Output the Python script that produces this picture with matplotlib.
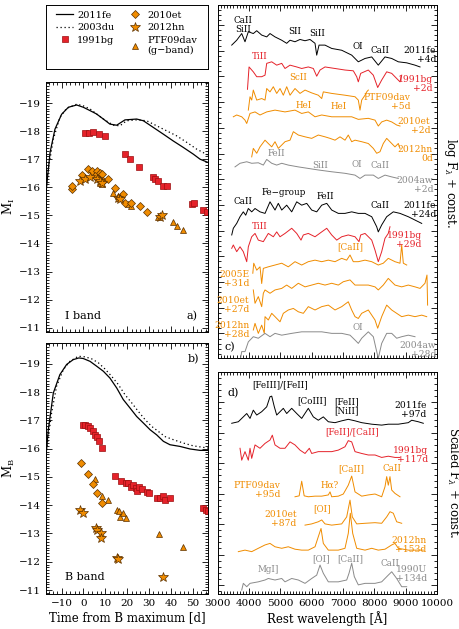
#! /usr/bin/env python3

#Light curves (left) and spectral sequences (right) of faint SNe
import matplotlib
matplotlib.use('Agg')
import matplotlib.pyplot as plt
from matplotlib.ticker import MultipleLocator, FixedLocator
from matplotlib.lines import Line2D

plt.rcParams['font.family'] = 'DejaVu Serif'
plt.rcParams['mathtext.fontset'] = 'dejavuserif'
plt.rcParams['font.size'] = 7.5

RED = '#e5222a'
ORANGE = '#f08c00'
GREY = '#8a8a8a'

#---------------- light curves, I band ----------------
fe11_I_t = [-17.3, -15.3, -13.05, -10, -6.9, -3.1, -0.1, 3.0, 6.0, 9.1, 12.1, 15.2, 19.0, 24.35, 27.4, 32, 36.6, 41.1, 45.7, 50.3, 53.4, 57.2]
fe11_I_m = [-15.69, -17.24, -18.07, -18.6, -18.85, -18.93, -18.85, -18.73, -18.61, -18.43, -18.25, -18.21, -18.40, -18.43, -18.37, -18.13, -17.89, -17.65, -17.42, -17.18, -17.0, -16.88]
du03_I_t = [-16.9, -13.8, -10.8, -7.7, -3.1, -0.1, 3.0, 6.0, 9.1, 13.7, 16.7, 19.8, 24.4, 28.9, 33.5, 38.1, 42.7, 47.3, 51.8, 57.2]
du03_I_m = [-16.29, -17.71, -18.49, -18.81, -18.96, -18.90, -18.79, -18.61, -18.43, -18.21, -18.19, -18.37, -18.40, -18.37, -18.19, -18.01, -17.83, -17.60, -17.36, -17.14]
bg91_I_t = [0.7, 2.7, 4.5, 7.25, 9.85, 19.0, 21.3, 25.6, 31.7, 32.7, 34.0, 36.6, 38.1, 49.5, 50.6, 54.9, 56.7]
bg91_I_m = [-17.95, -17.95, -17.98, -17.89, -17.81, -17.18, -17.0, -16.74, -16.35, -16.29, -16.23, -16.05, -16.05, -15.39, -15.43, -15.19, -15.12]
et10_I_t = [-5.4, -5.4, -0.84, 1.9, 3.7, 6.0, 7.6, 5.3, 6.8, 8.3, 9.1, 11.4, 14.4, 18.2, 19.0, 21.8, 25.9, 28.9]
et10_I_m = [-15.93, -16.05, -16.44, -16.64, -16.58, -16.58, -16.52, -16.40, -16.29, -16.46, -16.23, -16.29, -15.99, -15.75, -15.43, -15.43, -15.33, -15.12]
hn12_I_t = [-1.6, 0.7, 3.0, 6.0, 7.6, 8.3, 16.0, 16.7, 35.0, 35.8]
hn12_I_m = [-16.23, -16.29, -16.35, -16.29, -16.23, -16.17, -15.63, -15.60, -14.95, -15.0]
dav_I_t = [7.6, 8.3, 13.7, 16.0, 16.7, 20.5, 21.8, 34.3, 41.1, 42.7, 45.7]
dav_I_m = [-16.17, -16.11, -15.79, -15.69, -15.61, -15.39, -15.33, -14.95, -14.76, -14.62, -14.48]

#---------------- light curves, B band ----------------
fe11_B_t = [-17.3, -16.1, -13.8, -10.8, -7.7, -4.7, -2.1, -0.1, 3.0, 6.0, 9.1, 12.1, 15.2, 18.2, 21.3, 24.35, 27.4, 30.5, 33.5, 36.6, 39.6, 44.2, 48.8, 53.4, 57.2]
fe11_B_m = [-15.61, -16.67, -17.97, -18.62, -18.98, -19.15, -19.21, -19.19, -19.09, -18.92, -18.74, -18.50, -18.15, -17.74, -17.44, -17.14, -16.91, -16.67, -16.49, -16.26, -16.14, -16.08, -15.99, -15.94, -15.94]
du03_B_t = [-16.9, -14.6, -12.3, -9.2, -6.2, -2.4, 0.7, 3.7, 6.8, 9.85, 12.9, 15.95, 19.0, 22.1, 25.1, 28.2, 31.2, 34.3, 37.3, 41.1, 45.7, 50.3, 57.2]
du03_B_m = [-15.96, -17.26, -18.21, -18.80, -19.09, -19.27, -19.25, -19.18, -19.04, -18.82, -18.56, -18.27, -17.91, -17.62, -17.32, -17.03, -16.79, -16.61, -16.43, -16.32, -16.20, -16.10, -16.02]
bg91_B_t = [-0.4, 0.7, 1.9, 3.0, 4.2, 5.3, 6.0, 7.25, 8.3, 14.4, 17.2, 19.5, 20.5, 21.6, 22.8, 24.0, 24.35, 25.6, 26.6, 28.9, 30.2, 33.5, 35.0, 36.6, 37.3, 39.6, 54.9, 56.1, 57.2]
bg91_B_m = [-16.85, -16.83, -16.79, -16.73, -16.61, -16.49, -16.41, -16.26, -16.02, -15.02, -14.84, -14.80, -14.78, -14.66, -14.72, -14.60, -14.52, -14.66, -14.57, -14.46, -14.43, -14.25, -14.25, -14.31, -14.19, -14.25, -13.89, -13.83, -13.78]
et10_B_t = [-1.1, 1.9, 4.2, 6.0, 8.3]
et10_B_m = [-15.49, -15.11, -14.76, -14.45, -14.09]
hn12_B_t = [-1.6, -0.4, 5.7, 6.3, 7.9, 8.0, 15.2, 16.0, 36.3]
hn12_B_m = [-13.83, -13.72, -13.18, -13.12, -13.01, -12.83, -12.12, -12.09, -11.45]
dav_B_t = [5.3, 8.3, 11.4, 15.5, 16.4, 16.7, 18.2, 19.5, 34.7, 45.7]
dav_B_m = [-14.92, -14.34, -14.17, -13.83, -13.78, -13.60, -13.74, -13.56, -12.98, -12.51]

#---------------- early spectra, log F + const. ----------------
fe11_4d_w = [3447, 3606, 3766, 3871, 3977, 4136, 4245, 4404, 4564, 4669, 4829, 5043, 5202, 5308, 5467, 5627, 5787, 5946, 6106, 6160, 6234, 6425, 6639, 6958, 7277, 7488, 7702, 7916, 8126, 8340, 8554, 8765, 9033, 9298, 9458]
fe11_4d_f = [12.18, 12.37, 12.63, 12.31, 12.70, 12.63, 12.74, 12.57, 12.50, 12.63, 12.50, 12.37, 12.25, 12.37, 12.31, 12.40, 12.35, 12.40, 12.25, 11.79, 12.18, 12.18, 12.05, 11.98, 11.79, 11.53, 11.66, 11.72, 11.40, 11.72, 11.66, 11.53, 11.49, 11.40, 11.33]
bg91_2d_w = [3950, 4000, 4136, 4245, 4404, 4510, 4564, 4724, 4883, 5043, 5148, 5308, 5522, 5681, 5892, 6052, 6160, 6266, 6425, 6744, 7063, 7328, 7437, 7488, 7564, 7807, 7967, 8107, 8234, 8394, 8554, 8713, 8819, 8873]
bg91_2d_f = [10.46, 11.33, 11.14, 10.95, 10.95, 11.01, 11.47, 11.53, 11.40, 11.47, 11.27, 11.40, 11.33, 11.27, 11.33, 11.27, 10.97, 11.21, 11.33, 11.27, 11.21, 11.18, 10.95, 10.75, 11.08, 11.21, 11.01, 10.53, 10.82, 11.14, 11.08, 10.88, 10.75, 11.01]
dav_5d_w = [3977, 4031, 4085, 4136, 4245, 4404, 4510, 4564, 4669, 4775, 4883, 4989, 5094, 5202, 5308, 5467, 5627, 5787, 6000, 6211, 6320, 6371, 6639, 7063, 7383, 7488, 7542, 7596, 7702, 7756, 7807]
dav_5d_f = [9.65, 10.17, 10.04, 10.43, 10.04, 10.10, 10.04, 10.49, 10.36, 10.56, 10.30, 10.49, 10.23, 10.56, 10.23, 10.49, 10.30, 10.43, 10.32, 10.23, 10.10, 10.36, 10.30, 10.23, 10.17, 10.04, 9.65, 10.04, 10.23, 10.36, 10.43]
et10_2d_w = [3498, 3606, 3766, 3871, 3926, 4031, 4191, 4350, 4564, 4829, 5148, 5467, 5681, 5892, 6106, 6320, 6639, 6958, 7277, 7488, 7807, 8021, 8126, 8234, 8394, 8554, 8713, 8819]
et10_2d_f = [9.39, 9.46, 9.39, 9.26, 9.13, 9.52, 9.58, 9.46, 9.58, 9.65, 9.58, 9.65, 9.52, 9.58, 9.39, 9.46, 9.39, 9.39, 9.39, 9.29, 9.33, 9.26, 9.03, 9.19, 9.26, 9.19, 9.07, 9.03]
hn12_0d_w = [4085, 4136, 4245, 4350, 4510, 4615, 4724, 4829, 4934, 5043, 5148, 5308, 5414, 5573, 5787, 6000, 6211, 6425, 6585, 6744, 6904, 7063, 7168, 7277, 7383, 7596, 7807, 7967, 8075, 8180, 8285, 8394, 8554, 8659, 8765, 8819]
hn12_0d_f = [7.83, 8.16, 7.97, 8.22, 8.48, 8.35, 8.22, 8.42, 8.16, 8.29, 8.42, 8.48, 8.81, 8.68, 8.61, 8.55, 8.68, 8.61, 8.55, 8.48, 8.61, 8.48, 8.68, 8.42, 8.48, 8.42, 8.35, 8.16, 7.97, 8.03, 8.35, 8.55, 8.35, 8.22, 8.35, 8.16]
aw04_2d_w = [3552, 3712, 3926, 4085, 4296, 4456, 4564, 4724, 4883, 5043, 5253, 5573, 5892, 6211, 6639, 7063, 7383, 7542, 7702, 7967, 8126, 8340, 8554, 8765]
aw04_2d_f = [7.44, 7.58, 7.64, 7.58, 7.60, 7.51, 7.73, 7.58, 7.51, 7.58, 7.51, 7.44, 7.38, 7.32, 7.25, 7.19, 7.12, 6.99, 7.12, 7.12, 6.99, 7.12, 7.05, 6.99]
fe11_24d_w = [3447, 3498, 3606, 3712, 3817, 3894, 3977, 4085, 4191, 4350, 4510, 4669, 4829, 4934, 5043, 5202, 5362, 5522, 5681, 5841, 6000, 6160, 6320, 6480, 6639, 6850, 7063, 7277, 7488, 7702, 7916, 8075, 8126, 8234, 8394, 8605, 8819, 9084, 9298, 9512]
fe11_24d_f = [4.79, 5.05, 5.24, 5.50, 5.69, 5.56, 5.82, 5.69, 5.82, 5.69, 5.63, 6.08, 5.76, 6.02, 5.76, 5.95, 5.69, 6.08, 5.95, 6.02, 5.76, 5.69, 5.95, 6.02, 5.76, 5.63, 5.63, 5.69, 5.63, 5.63, 5.50, 5.11, 4.91, 5.18, 5.50, 5.69, 5.63, 5.50, 5.37, 5.24]
bg91_29d_w = [3447, 3498, 3606, 3712, 3817, 3926, 3977, 4085, 4191, 4296, 4456, 4615, 4775, 4883, 4989, 5148, 5362, 5522, 5659, 5733, 5892, 6106, 6320, 6480, 6639, 6799, 6958, 7168, 7383, 7510, 7564, 7702, 7916, 8021, 8126, 8234, 8340, 8445, 8499]
bg91_29d_f = [4.27, 4.40, 4.14, 4.33, 4.14, 3.75, 4.33, 4.72, 4.85, 4.59, 4.53, 4.85, 4.72, 4.91, 4.72, 4.85, 5.05, 4.85, 4.59, 4.79, 4.85, 4.72, 4.91, 5.05, 4.79, 4.59, 4.72, 4.79, 4.72, 4.53, 4.79, 4.85, 4.59, 4.20, 3.75, 4.14, 4.66, 4.85, 5.11]
e05_31d_w = [4120, 4150, 4245, 4350, 4404, 4456, 4615, 4829, 5043, 5253, 5467, 5681, 5892, 6106, 6320, 6531, 6744, 6958, 7117, 7223, 7328, 7488, 7702, 7916, 8126, 8285, 8445, 8659, 8819, 8873, 8925, 9033]
e05_31d_f = [3.30, 3.69, 3.42, 3.55, 2.90, 3.49, 3.55, 3.62, 3.69, 3.55, 3.75, 3.62, 3.75, 3.81, 3.75, 3.81, 3.75, 3.88, 3.81, 4.01, 3.75, 3.75, 3.81, 3.75, 3.62, 3.69, 3.88, 3.75, 3.69, 4.40, 3.69, 3.62]
et10_27d_w = [4136, 4191, 4296, 4404, 4456, 4510, 4669, 4829, 5043, 5202, 5362, 5573, 5787, 6000, 6211, 6425, 6639, 6850, 7009, 7223, 7383, 7596, 7807, 8021, 8126, 8285, 8445, 8659, 8873, 9084, 9298, 9458, 9617, 9680, 9700]
et10_27d_f = [2.65, 2.13, 2.39, 2.00, 2.52, 2.65, 2.52, 2.65, 2.71, 2.84, 2.71, 2.91, 2.77, 2.84, 2.91, 2.84, 2.91, 2.84, 2.97, 3.04, 2.84, 2.84, 2.84, 2.77, 2.65, 2.84, 3.10, 2.84, 2.77, 2.84, 2.77, 2.71, 2.91, 3.23, 2.06]
hn12_28d_w = [4136, 4191, 4296, 4404, 4487, 4510, 4615, 4724, 4829, 4989, 5094, 5253, 5414, 5573, 5733, 5892, 6106, 6320, 6531, 6744, 6958, 7168, 7277, 7383, 7488, 7596, 7807, 8021, 8107, 8234, 8394, 8554, 8713, 8873, 9084, 9298, 9512, 9671]
hn12_28d_f = [1.09, 1.35, 0.96, 1.28, 0.96, 1.61, 1.48, 1.74, 1.61, 1.41, 1.74, 1.87, 1.93, 1.80, 1.74, 2.00, 1.87, 2.00, 2.06, 1.87, 2.00, 2.19, 1.87, 1.61, 1.54, 1.74, 1.87, 1.48, 1.16, 1.61, 2.06, 1.87, 1.74, 1.61, 1.67, 1.61, 1.67, 1.61]
aw04_28d_w = [3712, 3766, 3871, 3977, 4136, 4296, 4510, 4669, 4829, 5043, 5362, 5681, 6000, 6320, 6639, 6958, 7223, 7383, 7488, 7596, 7807, 7967, 8075, 8126, 8234, 8394, 8554, 8713, 8873, 9084, 9298]
aw04_28d_f = [-0.14, 0.25, 0.25, 0.63, 0.83, 0.77, 0.96, 0.83, 0.96, 0.89, 0.96, 1.02, 1.02, 1.02, 0.96, 0.96, 0.89, 0.70, 0.57, 0.77, 1.02, 0.83, 0.25, -0.01, 0.57, 0.96, 0.96, 0.77, 0.83, 0.89, 0.83]

#---------------- nebular spectra, scaled F + const. ----------------
fe11_97d_w = [3447, 3658, 3817, 3926, 4031, 4136, 4245, 4404, 4564, 4669, 4724, 4807, 4883, 4989, 5094, 5202, 5362, 5522, 5681, 5892, 6052, 6211, 6371, 6531, 6744, 6958, 7168, 7383, 7596, 7916, 8234, 8445, 8765, 9084, 9193, 9403, 9563]
fe11_97d_f = [5.60, 5.65, 5.81, 5.92, 5.76, 6.03, 5.87, 5.98, 6.14, 6.47, 6.49, 6.14, 5.87, 5.98, 6.09, 5.92, 6.09, 5.92, 5.76, 6.09, 5.81, 5.70, 5.81, 5.65, 5.62, 5.68, 5.73, 5.68, 5.62, 5.57, 5.54, 5.57, 5.57, 5.62, 5.70, 5.65, 5.60]
bg91_117d_w = [3712, 3766, 3871, 3977, 4031, 4085, 4191, 4350, 4510, 4669, 4743, 4829, 4989, 5148, 5308, 5467, 5627, 5787, 5924, 6000, 6211, 6425, 6639, 6850, 7063, 7168, 7277, 7383, 7596, 7807, 8021, 8234, 8445, 8659, 8819]
bg91_117d_f = [4.78, 4.39, 4.67, 4.39, 4.78, 4.45, 4.89, 4.78, 4.94, 5.05, 5.21, 4.89, 4.78, 4.78, 4.99, 4.89, 4.72, 4.61, 4.78, 4.61, 4.67, 4.67, 4.67, 4.72, 4.83, 5.03, 4.99, 4.67, 4.61, 4.56, 4.56, 4.48, 4.52, 4.48, 4.48]
dav_95d_w = [5467, 5600, 5681, 5760, 5892, 6106, 6320, 6531, 6585, 6639, 6850, 7009, 7168, 7277, 7383, 7596, 7807, 8021, 8234, 8340, 8394, 8445, 8499, 8554, 8659, 8819]
dav_95d_f = [3.19, 3.22, 3.70, 3.22, 3.19, 3.21, 3.21, 3.25, 3.35, 3.19, 3.21, 3.28, 3.57, 3.87, 3.35, 3.21, 3.25, 3.28, 3.19, 3.52, 3.85, 3.57, 3.85, 3.41, 3.30, 3.19]
et10_87d_w = [5787, 6000, 6211, 6320, 6425, 6639, 6958, 7117, 7223, 7296, 7437, 7702, 8021, 8234, 8394, 8499, 8605, 8713, 8873]
et10_87d_f = [2.26, 2.30, 2.37, 2.43, 2.30, 2.26, 2.30, 2.53, 3.08, 2.53, 2.30, 2.32, 2.34, 2.32, 2.53, 2.70, 2.65, 2.37, 2.32]
hn12_153d_w = [3658, 3871, 4085, 4296, 4510, 4669, 4829, 5043, 5253, 5467, 5681, 5892, 6106, 6211, 6298, 6371, 6531, 6850, 7063, 7168, 7232, 7309, 7437, 7702, 7916, 8126, 8340, 8554, 8659, 8765, 9084, 9403, 9563]
hn12_153d_f = [1.39, 1.44, 1.39, 1.50, 1.61, 1.66, 1.55, 1.50, 1.55, 1.47, 1.44, 1.44, 1.55, 1.88, 2.15, 1.66, 1.44, 1.44, 1.50, 1.99, 2.65, 1.99, 1.50, 1.44, 1.50, 1.44, 1.47, 1.61, 1.66, 1.50, 1.44, 1.44, 1.44]
u90_134d_w = [3766, 3817, 3926, 4031, 4296, 4510, 4615, 4829, 5043, 5148, 5362, 5573, 5787, 6000, 6160, 6266, 6371, 6531, 6850, 7117, 7191, 7277, 7360, 7488, 7702, 8021, 8234, 8445, 8554, 8713, 8873, 9033]
u90_134d_f = [0.13, 0.35, 0.24, 0.35, 0.40, 0.46, 0.51, 0.46, 0.51, 0.40, 0.51, 0.46, 0.35, 0.51, 0.62, 0.95, 0.68, 0.40, 0.40, 0.46, 0.68, 1.01, 0.57, 0.30, 0.35, 0.35, 0.40, 0.62, 0.73, 0.51, 0.24, 0.24]

#Sets inward ticks on every side, IDL style
def style_axes(ax):
    ax.tick_params(which='both', direction='in', top=True, right=True, width=0.6)
    ax.tick_params(which='major', length=4.5)
    ax.tick_params(which='minor', length=2.2)
    for s in ax.spines.values():
        s.set_linewidth(0.7)

fig = plt.figure(figsize=(4.6, 6.29), dpi=100)
ax_leg = fig.add_axes([0.0993, 0.8903, 0.3522, 0.1017])
ax_a = fig.add_axes([0.0993, 0.4722, 0.3528, 0.3975])
ax_b = fig.add_axes([0.0993, 0.0552, 0.3528, 0.4000])
ax_c = fig.add_axes([0.4733, 0.4308, 0.4767, 0.5612])
ax_d = fig.add_axes([0.4733, 0.0556, 0.4767, 0.3529])

sq = dict(marker='s', ms=4.3, mfc=RED, mec='#9a1010', mew=0.5, ls='none')
dia = dict(marker='D', ms=4.0, mfc=ORANGE, mec='#5a3000', mew=0.5, ls='none')
star = dict(marker='*', ms=7.5, mfc=ORANGE, mec='#5a3000', mew=0.5, ls='none')
tri = dict(marker='^', ms=4.8, mfc=ORANGE, mec='#5a3000', mew=0.5, ls='none')
dot = (0, (1, 2.2))

#Panel a: I band
ax_a.plot(fe11_I_t, fe11_I_m, color='k', lw=0.9)
ax_a.plot(du03_I_t, du03_I_m, color='k', lw=0.9, ls=dot)
ax_a.plot(bg91_I_t, bg91_I_m, **sq)
ax_a.plot(dav_I_t, dav_I_m, **tri)
ax_a.plot(et10_I_t, et10_I_m, **dia)
ax_a.plot(hn12_I_t, hn12_I_m, **star)
ax_a.text(-0.1, -11.43, 'I band', ha='center', va='center', fontsize=8)
ax_a.text(49.6, -11.43, 'a)', ha='center', va='center', fontsize=8)
ax_a.set_ylabel(r'M$_\mathrm{I}$', fontsize=8.5, labelpad=1)
ax_a.tick_params(labelbottom=False)

#Panel b: B band
ax_b.plot(fe11_B_t, fe11_B_m, color='k', lw=0.9)
ax_b.plot(du03_B_t, du03_B_m, color='k', lw=0.9, ls=dot)
ax_b.plot(bg91_B_t, bg91_B_m, **sq)
ax_b.plot(dav_B_t, dav_B_m, **tri)
ax_b.plot(et10_B_t, et10_B_m, **dia)
ax_b.plot(hn12_B_t, hn12_B_m, **star)
ax_b.text(0.7, -11.47, 'B band', ha='center', va='center', fontsize=8)
ax_b.text(50.3, -19.18, 'b)', ha='center', va='center', fontsize=8)
ax_b.set_ylabel(r'M$_\mathrm{B}$', fontsize=8.5, labelpad=1)
ax_b.set_xlabel('Time from B maximum [d]', fontsize=8.5, labelpad=2)

for ax in (ax_a, ax_b):
    ax.set_xlim(-17.3, 57)
    ax.set_ylim(-10.85, -19.75)
    ax.xaxis.set_major_locator(MultipleLocator(10))
    ax.xaxis.set_minor_locator(MultipleLocator(2))
    ax.yaxis.set_major_locator(MultipleLocator(1))
    ax.yaxis.set_minor_locator(MultipleLocator(0.1))
    style_axes(ax)

#Legend box
handles = [Line2D([], [], color='k', lw=0.9),
           Line2D([], [], color='k', lw=0.9, ls=dot),
           Line2D([], [], **sq),
           Line2D([], [], **dia),
           Line2D([], [], **star),
           Line2D([], [], **tri)]
labels = ['2011fe', '2003du', '1991bg', '2010et', '2012hn', 'PTF09dav\n(g\u2212band)']
ax_leg.set_xticks([])
ax_leg.set_yticks([])
for s in ax_leg.spines.values():
    s.set_linewidth(0.7)
ax_leg.legend(handles, labels, ncol=2, frameon=False, loc='upper center',
              fontsize=7, handlelength=1.8, handletextpad=0.4, columnspacing=1.2,
              labelspacing=0.35, borderaxespad=0.2)

#Panel c: early spectra
early = [(fe11_4d_w, fe11_4d_f, 'k'), (bg91_2d_w, bg91_2d_f, RED),
         (dav_5d_w, dav_5d_f, ORANGE), (et10_2d_w, et10_2d_f, ORANGE),
         (hn12_0d_w, hn12_0d_f, ORANGE), (aw04_2d_w, aw04_2d_f, GREY),
         (fe11_24d_w, fe11_24d_f, 'k'), (bg91_29d_w, bg91_29d_f, RED),
         (e05_31d_w, e05_31d_f, ORANGE), (et10_27d_w, et10_27d_f, ORANGE),
         (hn12_28d_w, hn12_28d_f, ORANGE), (aw04_28d_w, aw04_28d_f, GREY)]
for w, f, c in early:
    ax_c.plot(w, f, color=c, lw=0.7)

c_ids = [(3817, 12.96, 'CaII\nSiII', 'k'), (5467, 12.70, 'SII', 'k'),
         (6160, 12.63, 'SiII', 'k'), (7469, 12.11, 'OI', 'k'),
         (8180, 11.98, 'CaII', 'k'), (4350, 11.72, 'TiII', RED),
         (5573, 10.92, 'ScII', ORANGE), (5733, 9.84, 'HeI', ORANGE),
         (6850, 9.78, 'HeI', ORANGE), (4883, 7.97, 'FeII', GREY),
         (6266, 7.51, 'SiII', GREY), (7437, 7.55, 'OI', GREY),
         (8180, 7.51, 'CaII', GREY), (3817, 6.08, 'CaII', 'k'),
         (5094, 6.43, 'Fe\u2212group', 'k'), (6425, 6.30, 'FeII', 'k'),
         (8180, 5.95, 'CaII', 'k'), (4350, 5.11, 'TiII', RED),
         (7223, 4.33, '[CaII]', ORANGE), (7488, 1.20, 'OI', GREY)]
for x, y, s, c in c_ids:
    ax_c.text(x, y, s, color=c, ha='center', va='center', fontsize=6.3, linespacing=1.0)

c_names = [(9968, 11.81, '2011fe\n+4d', 'k'), (9863, 10.68, '1991bg\n+2d', RED),
           (9139, 9.97, 'PTF09dav\n+5d', ORANGE), (9777, 9.03, '2010et\n+2d', ORANGE),
           (9873, 7.95, '2012hn\n0d', ORANGE), (9873, 6.72, '2004aw\n+2d', GREY),
           (9968, 5.75, '2011fe\n+24d', 'k'), (9514, 4.58, '1991bg\n+29d', RED),
           (4010, 3.08, '2005E\n+31d', ORANGE), (4010, 2.05, '2010et\n+27d', ORANGE),
           (4010, 1.09, '2012hn\n+28d', ORANGE), (9968, 0.30, '2004aw\n+28d', GREY)]
for x, y, s, c in c_names:
    ax_c.text(x, y, s, color=c, ha='right', va='center', fontsize=6.6, linespacing=1.0,
              multialignment='right')
ax_c.text(3393, 0.42, 'c)', ha='center', va='center', fontsize=8)
ax_c.set_ylim(0, 13.74)
ax_c.yaxis.set_major_locator(FixedLocator([0.96 + k for k in range(13)]))
ax_c.yaxis.set_minor_locator(FixedLocator([0.16 + 0.2 * k for k in range(68)]))

#Panel d: nebular spectra
late = [(fe11_97d_w, fe11_97d_f, 'k'), (bg91_117d_w, bg91_117d_f, RED),
        (dav_95d_w, dav_95d_f, ORANGE), (et10_87d_w, et10_87d_f, ORANGE),
        (hn12_153d_w, hn12_153d_f, ORANGE), (u90_134d_w, u90_134d_f, GREY)]
for w, f, c in late:
    ax_d.plot(w, f, color=c, lw=0.7)

d_ids = [(4989, 6.85, '[FeIII]/[FeII]', 'k'), (6000, 6.34, '[CoIII]', 'k'),
         (7117, 6.17, '[FeII]\n[NiII]', 'k'), (7277, 5.32, '[FeII]/[CaII]', RED),
         (7277, 4.12, '[CaII]', ORANGE), (8554, 4.12, 'CaII', ORANGE),
         (6585, 3.57, 'H\u03b1?', ORANGE), (6320, 2.81, '[OI]', ORANGE),
         (4615, 0.79, 'MgI]', GREY), (6298, 1.17, '[OI]', GREY),
         (7223, 1.17, '[CaII]', GREY), (8499, 1.01, 'CaII', GREY)]
for x, y, s, c in d_ids:
    ax_d.text(x, y, s, color=c, ha='center', va='center', fontsize=6.3, linespacing=1.0)

d_names = [(9671, 6.02, '2011fe\n+97d', 'k'), (9722, 4.55, '1991bg\n+117d', RED),
           (4989, 3.41, 'PTF09dav\n+95d', ORANGE), (5522, 2.45, '2010et\n+87d', ORANGE),
           (9671, 1.62, '2012hn\n+153d', ORANGE), (9671, 0.65, '1990U\n+134d', GREY)]
for x, y, s, c in d_names:
    ax_d.text(x, y, s, color=c, ha='right', va='center', fontsize=6.6, linespacing=1.0,
              multialignment='right')
ax_d.text(3498, 6.58, 'd)', ha='center', va='center', fontsize=8)
ax_d.set_ylim(0, 7.28)
ax_d.yaxis.set_major_locator(FixedLocator([0.295 + k for k in range(7)]))
ax_d.yaxis.set_minor_locator(FixedLocator([0.095 + 0.2 * k for k in range(36)]))
ax_d.set_xlabel('Rest wavelength [\u00c5]', fontsize=8.5, labelpad=2)

for ax in (ax_c, ax_d):
    ax.set_xlim(3000, 10000)
    ax.xaxis.set_major_locator(MultipleLocator(1000))
    ax.xaxis.set_minor_locator(MultipleLocator(100))
    style_axes(ax)
    ax.tick_params(labelleft=False)
ax_c.tick_params(labelbottom=False)

fig.text(0.980, 0.709, r'log F$_\lambda$ + const.', rotation=-90, ha='center', va='center', fontsize=8.5)
fig.text(0.984, 0.232, r'Scaled F$_\lambda$ + const.', rotation=-90, ha='center', va='center', fontsize=8.5)

fig.savefig('out.png', dpi=100)
